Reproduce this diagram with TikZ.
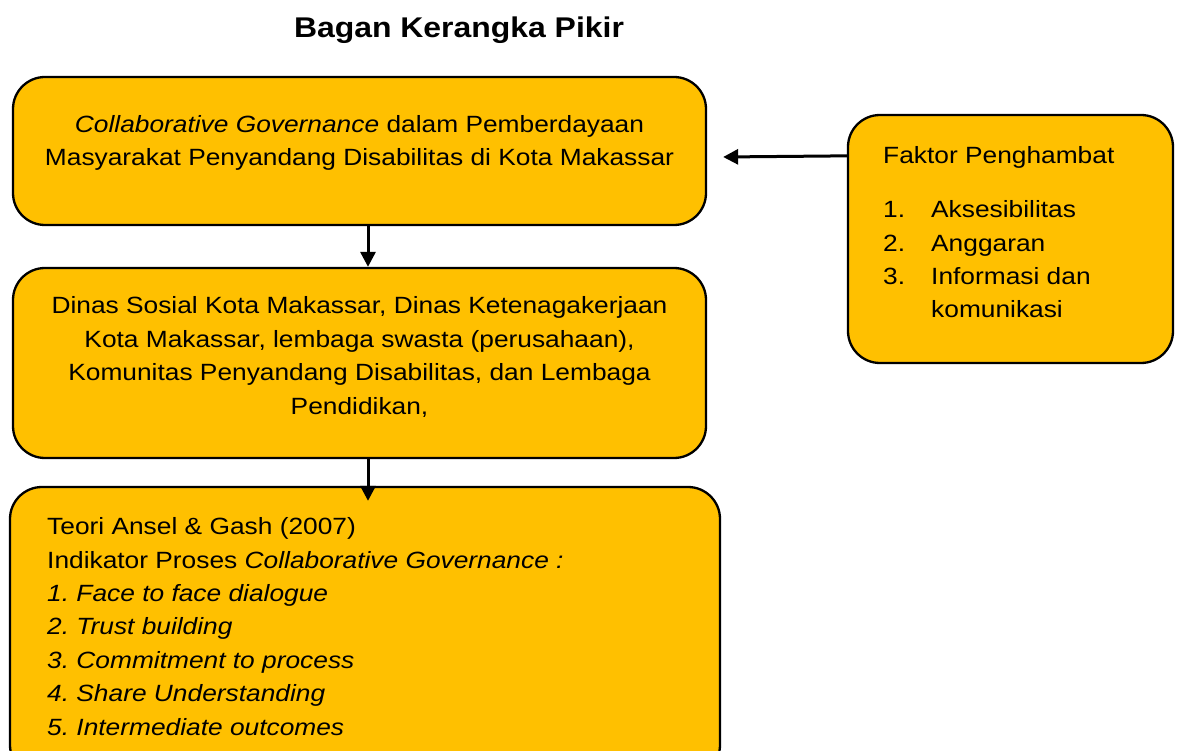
\documentclass[tikz,border=0pt]{standalone}
\usepackage{fontspec}
\setmainfont{Liberation Sans}[FakeStretch=1.12]
\usetikzlibrary{arrows.meta,calc}
\definecolor{boxgold}{HTML}{FFC000}
\frenchspacing
\begin{document}
\begin{tikzpicture}[x=1pt,y=-1pt,
  box/.style={draw=black, line width=2.3pt, fill=boxgold, rounded corners=32pt,
    inner sep=0pt, minimum width=#1},
  txt/.style={inner sep=0pt, font=\fontsize{23.5}{33.4}\selectfont},
  arr/.style={line width=3pt, -{Triangle[length=15pt,width=15pt]}}]
\useasboundingbox[fill=white] (0,0) rectangle (1181,751);

% title
\node[inner sep=0pt, font=\fontsize{28.5}{32}\selectfont\bfseries, anchor=base]
  (title) at (459,38) {Bagan Kerangka Pikir};

% boxes
\node[box=693pt, minimum height=148pt] (cg)   at (359.5,151) {};
\node[box=693pt, minimum height=190pt] (act)  at (359.5,363) {};
\node[box=710pt, minimum height=290pt] (teori) at (365,632) {};
\node[box=325pt, minimum height=248pt] (hamb) at (1010.5,239) {};

% texts (base anchor sits on the last line)
\node[txt, align=center, anchor=base] (cgtxt) at (359.5,166)
  {\textit{Collaborative Governance} dalam Pemberdayaan\\
   Masyarakat Penyandang Disabilitas di Kota Makassar};

\node[txt, align=center, anchor=base] (acttxt) at (359.5,414)
  {Dinas Sosial Kota Makassar, Dinas Ketenagakerjaan\\
   Kota Makassar, lembaga swasta (perusahaan),\\
   Komunitas Penyandang Disabilitas, dan Lembaga\\
   Pendidikan,};

\node[txt, align=left, anchor=base west] (teoritxt) at (47,735)
  {Teori Ansel \& Gash (2007)\\
   Indikator Proses \textit{Collaborative Governance :}\\
   \textit{1. Face to face dialogue}\\
   \textit{2. Trust building}\\
   \textit{3. Commitment to process}\\
   \textit{4. Share Understanding}\\
   \textit{5. Intermediate outcomes}};

\node[txt, anchor=base west] (hambtitle) at (883,164) {Faktor Penghambat};
\node[txt, anchor=base west] (hamblist) at (883,318)
  {\begin{tabular}[b]{@{}p{48pt}@{}l@{}}
   1. & Aksesibilitas\\
   2. & Anggaran\\
   3. & Informasi dan\\
      & komunikasi
   \end{tabular}};

% connectors
\draw[arr] ($(cg.south)+(8.5,0)$) -- ($(act.north)+(8.5,0)$);
\draw[arr] ($(act.south)+(8.5,0)$) -- ($(teori.north)+(3,15)$);
\draw[arr] ($(hamb.north west)+(0,42)$) -- ($(cg.east)+(16,6)$);
\end{tikzpicture}
\end{document}
